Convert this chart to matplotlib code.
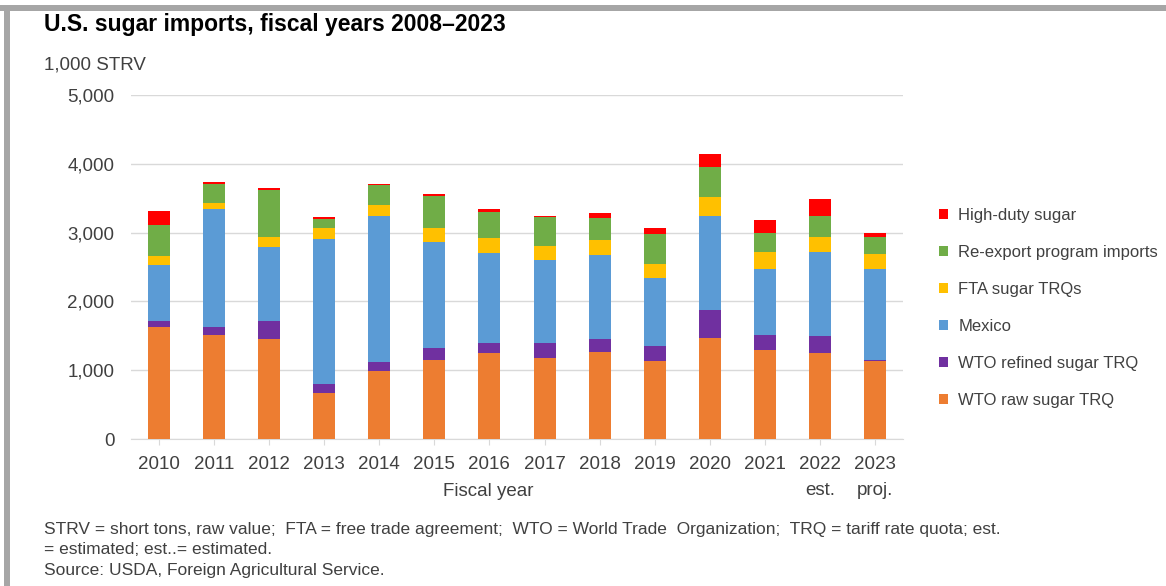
import numpy as np
import matplotlib
matplotlib.use("Agg")
import matplotlib.pyplot as plt
from matplotlib.patches import Patch, Rectangle
from matplotlib import font_manager

# fiscal years
years = ["2010", "2011", "2012", "2013", "2014", "2015", "2016",
         "2017", "2018", "2019", "2020", "2021", "2022\nest.", "2023\nproj."]

# imports by source, 1,000 STRV
wto_raw = [1626, 1510, 1456, 668, 982, 1151, 1249, 1171, 1268, 1133, 1475, 1287, 1249, 1133]
wto_refined = [96, 116, 266, 131, 130, 175, 149, 227, 188, 212, 398, 223, 247, 18]
mexico = [804, 1714, 1066, 2105, 2130, 1539, 1312, 1201, 1220, 993, 1369, 963, 1219, 1322]
fta = [136, 87, 154, 160, 164, 208, 217, 212, 214, 212, 281, 242, 227, 222]
reexport = [450, 284, 674, 139, 282, 464, 378, 417, 319, 427, 435, 281, 300, 247]
high_duty = [207, 25, 29, 25, 23, 29, 35, 19, 73, 96, 189, 193, 247, 54]

series = [
    ("WTO raw sugar TRQ", wto_raw, "#ED7D31"),
    ("WTO refined sugar TRQ", wto_refined, "#7030A0"),
    ("Mexico", mexico, "#5B9BD5"),
    ("FTA sugar TRQs", fta, "#FFC000"),
    ("Re-export program imports", reexport, "#70AD47"),
    ("High-duty sugar", high_duty, "#FF0000"),
]

names = {f.name for f in font_manager.fontManager.ttflist}
base = "Liberation Sans" if "Liberation Sans" in names else "DejaVu Sans"
plt.rcParams["font.family"] = [base, "DejaVu Sans"]

txt = "#404040"
W, H = 1166, 586
fig = plt.figure(figsize=(W / 100, H / 100), dpi=100)

# grey frame along top and left edge
fig.patches.append(Rectangle((0, 1 - 11 / H), 1, 6 / H, transform=fig.transFigure,
                             color="#A6A6A6", lw=0))
fig.patches.append(Rectangle((4 / W, 0), 6 / W, 1 - 5 / H, transform=fig.transFigure,
                             color="#A6A6A6", lw=0))

ax = fig.add_axes([131 / W, 1 - 439 / H, (903 - 131) / W, (439 - 95) / H])

x = np.arange(len(years))
bottom = np.zeros(len(years))
for name, vals, col in series:
    ax.bar(x, vals, 0.4, bottom=bottom, color=col, label=name, zorder=3)
    bottom += np.array(vals)

ax.set_xlim(-0.5, len(years) - 0.5)
ax.set_ylim(0, 5000)
ax.set_yticks(range(0, 5001, 1000))
ax.set_yticklabels([f"{v:,}" for v in range(0, 5001, 1000)])
ax.grid(axis="y", color="#D9D9D9", lw=1, zorder=0)
for s in ["top", "right", "left"]:
    ax.spines[s].set_visible(False)
ax.spines["bottom"].set_color("#D9D9D9")
ax.tick_params(axis="y", length=0, pad=12, labelsize=13.5, labelcolor=txt)
ax.tick_params(axis="x", length=4, color="#D9D9D9", pad=8, labelsize=13.5, labelcolor=txt)
ax.set_xticks(x)
ax.set_xticklabels(years)
for lb in ax.get_xticklabels():
    lb.set_linespacing(1.75)

fig.text(488 / W, 1 - 491 / H, "Fiscal year", ha="center", va="center",
         fontsize=13.5, color=txt)

handles = [Patch(facecolor=c, label=n) for n, v, c in series][::-1]
fig.legend(handles=handles, loc="upper left", bbox_to_anchor=(924 / W, 1 - 193 / H),
           frameon=False, fontsize=12, labelcolor=txt, handlelength=0.55,
           handleheight=0.55, handletextpad=0.6, labelspacing=1.32)

fig.text(44 / W, 1 - 25 / H, "U.S. sugar imports, fiscal years 2008\u20132023",
         fontweight="bold", fontsize=16.5, ha="left", va="center", color="black")
fig.text(44 / W, 1 - 65 / H, "1,000 STRV", fontsize=13.5, ha="left", va="center", color=txt)

notes = ("STRV = short tons, raw value;  FTA = free trade agreement;  WTO = World Trade  "
         "Organization;  TRQ = tariff rate quota; est.\n= estimated; est..= estimated.\n"
         "Source: USDA, Foreign Agricultural Service.")
fig.text(44 / W, 1 - 522 / H, notes, fontsize=12.5, ha="left", va="top", color=txt,
         linespacing=1.45)

fig.savefig("out.png", dpi=100)
